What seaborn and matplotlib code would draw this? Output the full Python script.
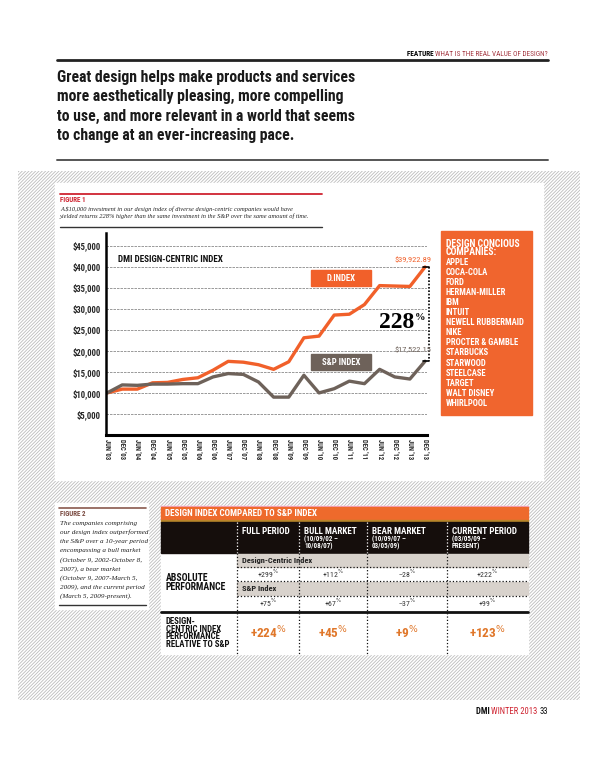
import matplotlib
matplotlib.use('Agg')
import matplotlib.pyplot as plt
import seaborn as sns
import pandas as pd
from matplotlib import font_manager as fm
from matplotlib.patches import Rectangle

# ---- data -------------------------------------------------------------
dates = ["JUN '03", "DEC '03", "JUN '04", "DEC '04", "JUN '05", "DEC '05",
         "JUN '06", "DEC '06", "JUN '07", "DEC '07", "JUN '08", "DEC '08",
         "JUN '09", "DEC '09", "JUN '10", "DEC '10", "JUN '11", "DEC '11",
         "JUN '12", "DEC '12", "JUN '13", "DEC '13"]
design_index = [10000, 10900, 10900, 12400, 12500, 13200, 13600, 15400,
                17500, 17300, 16700, 15600, 17400, 23100, 23500, 28500,
                28700, 31000, 35500, 35400, 35300, 39922.89]
sp_index = [10000, 11900, 11800, 12100, 12100, 12200, 12200, 13800,
            14600, 14400, 12600, 9000, 9000, 14200, 10000, 11000,
            12800, 12200, 15600, 13800, 13300, 17522.15]
y_ticks = [5000, 10000, 15000, 20000, 25000, 30000, 35000, 40000, 45000]

companies = ['APPLE', 'COCA-COLA', 'FORD', 'HERMAN-MILLER', 'IBM', 'INTUIT',
             'NEWELL RUBBERMAID', 'NIKE', 'PROCTER & GAMBLE', 'STARBUCKS',
             'STARWOOD', 'STEELCASE', 'TARGET', 'WALT DISNEY', 'WHIRLPOOL']

periods = ['FULL PERIOD', 'BULL MARKET', 'BEAR MARKET', 'CURRENT PERIOD']
period_dates = ['', '(10/09/02 –\n10/08/07)', '(10/09/07 –\n03/05/09)',
                '(03/05/09 –\nPRESENT)']
design_abs = [299, 112, -28, 222]
sp_abs = [75, 67, -37, 99]
relative = [224, 45, 9, 123]

title_lines = ['Great design helps make products and services',
               'more aesthetically pleasing, more compelling',
               'to use, and more relevant in a world that seems',
               'to change at an ever-increasing pace.']
fig1_caption = ('A $10,000 investment in our design index of diverse design-centric companies would have\n'
                'yielded returns 228% higher than the same investment in the S&P over the same amount of time.')
fig2_caption = ['The companies comprising', 'our design index outperformed',
                'the S&P over a 10-year period', 'encompassing a bull market',
                '(October 9, 2002-October 8,', '2007), a bear market',
                '(October 9, 2007-March 5,', '2009), and the current period',
                '(March 5, 2009-present).']

# ---- style ------------------------------------------------------------
ORANGE = '#f1602a'
GREY = '#6e625a'
RED = '#cf2330'
MAROON = '#a3353f'

sns.set_style('white')
avail = {f.name for f in fm.fontManager.ttflist}


def pick(*names):
    for n in names:
        if n in avail:
            return n
    return 'DejaVu Sans'


COND = pick('Liberation Sans Narrow', 'Roboto Condensed', 'Open Sans Condensed', 'Roboto')
SERIF = pick('Liberation Serif', 'DejaVu Serif')
plt.rcParams['font.family'] = [COND, 'DejaVu Sans']
plt.rcParams['hatch.linewidth'] = 0.6

fig = plt.figure(figsize=(6, 7.65), dpi=100)
bg = fig.add_axes([0, 0, 1, 1], zorder=0)
fg = fig.add_axes([0, 0, 1, 1], zorder=2)
for a in (bg, fg):
    a.set_xlim(0, 600)
    a.set_ylim(765, 0)
    a.axis('off')

# background panels
bg.add_patch(Rectangle((18, 171), 562, 529, facecolor='white', edgecolor='#bcbcbc',
                       hatch='/' * 10, lw=0))
bg.add_patch(Rectangle((55, 183), 488, 297, color='white'))
bg.add_patch(Rectangle((55, 503), 93, 106, color='white'))
bg.add_patch(Rectangle((161, 506), 367, 148, color='white'))

# header
bg.plot([57, 548], [60, 60], color='#222222', lw=2)
bg.plot([57, 548], [160, 160], color='#555555', lw=1.4)
t = fg.text(548, 54, 'WHAT IS THE REAL VALUE OF DESIGN?', color=MAROON, fontsize=5.2,
            ha='right', va='center')
fg.annotate('FEATURE ', xy=(0, 0.5), xycoords=t, ha='right', va='center',
            fontsize=5.2, fontweight='bold', color='black')
for i, line in enumerate(title_lines):
    fg.text(57, 77 + 19.6 * i, line, fontsize=11.3, fontweight='bold',
            color='#1a1a1a', va='center')

# figure 1 caption
bg.plot([60, 322], [194, 194], color=RED, lw=1.3)
fg.text(60, 200, 'FIGURE 1', color=RED, fontsize=5, fontweight='bold', va='center')
fg.text(60, 213, fig1_caption, family=SERIF, style='italic', fontsize=4.6,
        color='#222222', va='center', linespacing=1.35)
bg.plot([60, 322], [227, 227], color='#333333', lw=1)

# ---- main chart -------------------------------------------------------
ax = fig.add_axes([106 / 600, 1 - 435 / 765, 321 / 600, 202 / 765], zorder=1)
ax.patch.set_alpha(0)
n = len(dates)
df = pd.DataFrame({
    'x': list(range(n)) * 2,
    'value': design_index + sp_index,
    'series': ['D.INDEX'] * n + ['S&P INDEX'] * n,
})
sns.lineplot(data=df, x='x', y='value', hue='series', hue_order=['D.INDEX', 'S&P INDEX'],
             palette={'D.INDEX': ORANGE, 'S&P INDEX': GREY}, linewidth=2.4,
             legend=False, ax=ax)
ax.set_xlim(-0.07, 21.13)
ax.set_ylim(0, 48000)
ax.set_yticks(y_ticks)
ax.set_yticklabels([f'${v:,}' for v in y_ticks], fontsize=6.2, fontweight='bold')
ax.set_xticks(range(n))
ax.set_xticklabels(dates, rotation=-90, fontsize=4.8, fontweight='bold')
ax.tick_params(length=0, pad=4)
ax.tick_params(axis='x', pad=3)
ax.set_xlabel('')
ax.set_ylabel('')
for v in y_ticks:
    ax.axhline(v, color='#8a8a8a', lw=0.6, ls=(0, (3, 1.2)), zorder=0)
for s in ('top', 'right'):
    ax.spines[s].set_visible(False)
ax.spines['left'].set_linewidth(1.8)
ax.spines['bottom'].set_linewidth(2.2)
ax.spines['left'].set_color('black')
ax.spines['bottom'].set_color('black')

# bracket between the two end values (drawn on the overlay, positioned from data)
d_last, s_last = design_index[-1], sp_index[-1]
to_px = ax.transData + fg.transData.inverted()
x_end, y_top = to_px.transform((n - 1, d_last))
_, y_bot = to_px.transform((n - 1, s_last))
bx = x_end + 4
fg.plot([bx, bx], [y_top, y_bot], color='black', lw=1.2, ls=(0, (1, 1)))
fg.plot([bx - 6, bx], [y_top, y_top], color='black', lw=1.2)
fg.plot([bx - 6, bx], [y_bot, y_bot], color='black', lw=1.2)
fg.text(bx + 2, y_top - 4, f'${d_last:,.2f}', ha='right', va='bottom',
        color=ORANGE, fontsize=6)
fg.text(bx + 2, y_bot - 8, f'${s_last:,.2f}', ha='right', va='bottom',
        color=GREY, fontsize=6)
pct = round(d_last / s_last * 100)
ymid = (y_top + y_bot) / 2 + 8
fg.text(bx - 15, ymid, f'{pct}', ha='right', va='center', family=SERIF,
        fontweight='bold', fontsize=17, color='black')
fg.text(bx - 14.5, ymid - 5, '%', ha='left', va='center', family=SERIF,
        fontweight='bold', fontsize=7.5, color='black')

fg.text(118, 259, 'DMI DESIGN-CENTRIC INDEX', fontsize=6.6, fontweight='bold',
        va='center', color='#111111')
bg.add_patch(Rectangle((311, 270), 60, 16, color=ORANGE, zorder=3))
fg.text(341, 278, 'D.INDEX', color='white', fontsize=6.3, fontweight='bold',
        ha='center', va='center')
bg.add_patch(Rectangle((311, 354), 60, 16, color=GREY, zorder=3))
fg.text(341, 362, 'S&P INDEX', color='white', fontsize=6.3, fontweight='bold',
        ha='center', va='center')

# company box
bg.add_patch(Rectangle((441, 231), 91, 184, color='#f0652e'))
fg.text(446, 248, 'DESIGN CONCIOUS\nCOMPANIES:', color='white', fontsize=7,
        fontweight='bold', va='center', linespacing=0.85)
for i, c in enumerate(companies):
    fg.text(446, 262 + 10.1 * i, c, color='white', fontsize=6.2,
            fontweight='bold', va='center')

# ---- figure 2 ---------------------------------------------------------
bg.plot([59, 146], [508, 508], color='#8a5a4e', lw=1.2)
fg.text(60, 513.5, 'FIGURE 2', color='#7a4a40', fontsize=5, fontweight='bold', va='center')
for i, line in enumerate(fig2_caption):
    fg.text(60, 523 + 9.2 * i, line, family=SERIF, style='italic', fontsize=5.1,
            color='#222222', va='center')
bg.plot([59, 146], [605, 605], color='#333333', lw=1)

tl, tr = 161, 528
cols = [237, 299, 367, 447, 528]
bg.add_patch(Rectangle((tl, 505.5), tr - tl, 1.6, color='#f4a9c9'))
bg.add_patch(Rectangle((tl, 507), tr - tl, 13, color='#ee6a2c'))
bg.add_patch(Rectangle((tl, 519.5), tr - tl, 2, color='#b8862b'))
bg.add_patch(Rectangle((tl, 521.5), tr - tl, 31.5, color='#150e0c'))
bg.add_patch(Rectangle((237, 554), tr - 237, 12.5, color='#d8d2cc'))
bg.add_patch(Rectangle((237, 582), tr - 237, 12.5, color='#d8d2cc'))
fg.text(165, 514, 'DESIGN INDEX COMPARED TO S&P INDEX', color='white', fontsize=6.6,
        fontweight='bold', va='center')

for i, p in enumerate(periods):
    x0 = cols[i]
    fg.text(x0 + 5, 531, p, color='white', fontsize=6.6, fontweight='bold', va='center')
    if period_dates[i]:
        fg.text(x0 + 5, 543, period_dates[i], color='white', fontsize=5,
                fontweight='bold', va='center', linespacing=0.9)
    fg.plot([x0, x0], [522, 553], color='white', lw=0.9, ls=':')
    fg.plot([x0, x0], [553, 654], color='#111111', lw=0.9, ls=':')

for yy in (567, 581, 596):
    fg.plot([237, tr], [yy, yy], color='#111111', lw=0.9, ls=':')
fg.text(242, 560, 'Design-Centric Index', fontsize=6, fontweight='bold', va='center',
        color='#222222')
fg.text(242, 588.5, 'S&P Index', fontsize=6, fontweight='bold', va='center',
        color='#222222')
fg.plot([tl, tr], [611.5, 611.5], color='#111111', lw=2)


def fmt(v):
    return f'{v:+d}'.replace('-', '–')


for i in range(4):
    xc = (cols[i] + cols[i + 1]) / 2
    fg.text(xc, 574, fmt(design_abs[i]) + r'$^{\%}$', ha='center', va='center',
            fontsize=5.6, color='#333333')
    fg.text(xc, 603, fmt(sp_abs[i]) + r'$^{\%}$', ha='center', va='center',
            fontsize=5.6, color='#333333')
    fg.text(xc, 633, fmt(relative[i]) + r'$^{\%}$', ha='center', va='center',
            fontsize=9.5, fontweight='bold', color='#e0772a')

fg.text(166, 582.5, 'ABSOLUTE\nPERFORMANCE', fontsize=7, fontweight='bold', va='center',
        linespacing=0.85, color='#111111')
fg.text(166, 633, 'DESIGN-\nCENTRIC INDEX\nPERFORMANCE\nRELATIVE TO S&P', fontsize=6.3,
        fontweight='bold', va='center', linespacing=0.85, color='#111111')

# footer
t33 = fg.text(548, 712, '33', fontsize=6.2, ha='right', va='center', color='#111111')
tw = fg.annotate('WINTER 2013 ', xy=(0, 0.5), xycoords=t33, ha='right', va='center',
                 fontsize=6.2, color=RED)
fg.annotate('DMI ', xy=(0, 0.5), xycoords=tw, ha='right', va='center',
            fontsize=6.2, fontweight='bold', color='#111111')

fig.savefig('out.png', dpi=100)
